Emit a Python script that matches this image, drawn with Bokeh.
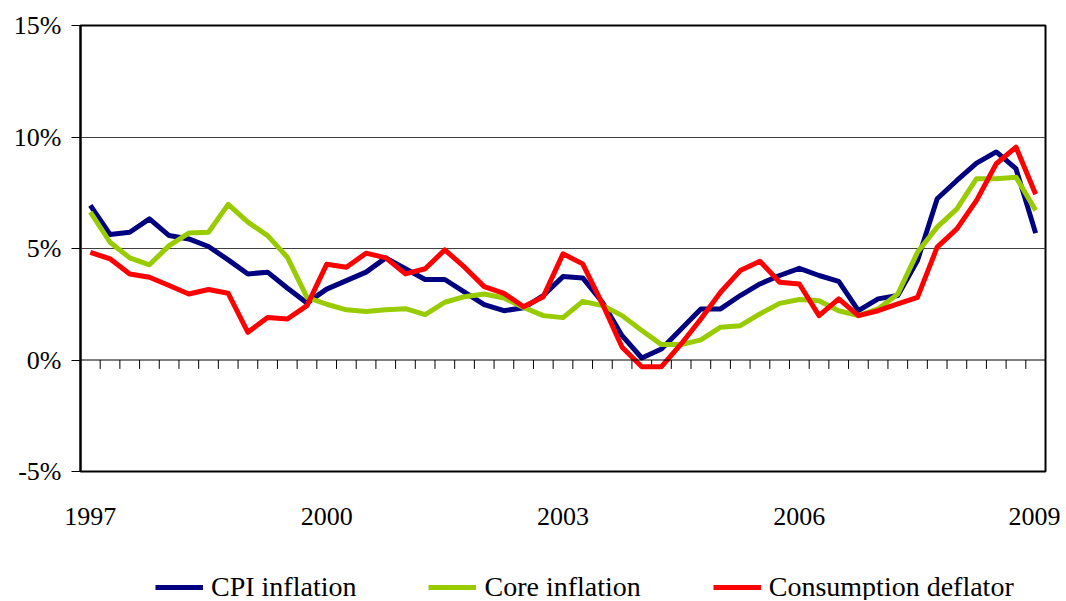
from bokeh.plotting import figure
from bokeh.layouts import column
from bokeh.models import (Range1d, FixedTicker, PrintfTickFormatter, Span,
                          Legend, LegendItem, ColumnDataSource)
from bokeh.embed import file_html
from bokeh.resources import INLINE

# Quarterly observations, 1997Q1 .. 2009Q1
quarters = [f"{y}Q{q}" for y in range(1997, 2010) for q in (1, 2, 3, 4)][:49]
year_labels = ["1997", "2000", "2003", "2006", "2009"]
year_positions = [0, 12, 24, 36, 48]

cpi = [6.93, 5.63, 5.73, 6.33, 5.58, 5.43, 5.09, 4.49, 3.86, 3.94,
       3.23, 2.56, 3.18, 3.56, 3.94, 4.58, 4.09, 3.61, 3.61, 3.04,
       2.48, 2.21, 2.34, 2.89, 3.74, 3.68, 2.59, 1.09, 0.09, 0.49,
       1.39, 2.29, 2.29, 2.89, 3.41, 3.79, 4.11, 3.79, 3.53, 2.21,
       2.74, 2.89, 4.46, 7.23, 8.05, 8.83, 9.33, 8.58, 5.69]
core = [6.63, 5.28, 4.58, 4.27, 5.13, 5.69, 5.73, 6.98, 6.18, 5.58,
        4.61, 2.81, 2.50, 2.25, 2.18, 2.25, 2.30, 2.03, 2.59, 2.84,
        2.96, 2.78, 2.36, 1.99, 1.90, 2.63, 2.44, 1.99, 1.32, 0.69,
        0.69, 0.90, 1.47, 1.54, 2.07, 2.54, 2.71, 2.66, 2.21, 1.99,
        2.29, 2.96, 4.83, 5.96, 6.78, 8.13, 8.13, 8.20, 6.71]
deflator = [4.83, 4.54, 3.86, 3.71, 3.34, 2.96, 3.16, 2.99, 1.24, 1.91,
            1.84, 2.44, 4.29, 4.16, 4.79, 4.58, 3.86, 4.09, 4.94, 4.16,
            3.29, 2.99, 2.39, 2.84, 4.76, 4.31, 2.52, 0.57, -0.30, -0.30,
            0.72, 1.84, 3.04, 4.01, 4.43, 3.49, 3.41, 1.99, 2.74, 1.99,
            2.21, 2.52, 2.81, 5.06, 5.88, 7.16, 8.80, 9.55, 7.43]

series_names = ["CPI inflation", "Core inflation", "Consumption deflator"]
series_colors = ["#000080", "#99CC00", "#FF0000"]
series_cols = ["cpi", "core", "defl"]

idx = list(range(len(quarters)))
src = ColumnDataSource(dict(x=idx, q=quarters, cpi=cpi, core=core, defl=deflator))

FONT = "Liberation Serif"
LW = 5

# ---------------- main chart ----------------
fig = figure(width=1060, height=540, output_backend="svg", toolbar_location=None,
             x_range=Range1d(-0.5, len(quarters) - 0.5), y_range=Range1d(-5, 15),
             min_border_left=80, min_border_right=15, min_border_top=25,
             min_border_bottom=69)
fig.background_fill_color = "white"
fig.border_fill_color = "white"
fig.outline_line_color = "black"
fig.outline_line_width = 2

fig.xgrid.visible = False
fig.ygrid.ticker = FixedTicker(ticks=[5, 10])
fig.ygrid.grid_line_color = "#404040"
fig.ygrid.grid_line_width = 1

ya = fig.yaxis[0]
ya.ticker = FixedTicker(ticks=[-5, 0, 5, 10, 15])
ya.formatter = PrintfTickFormatter(format="%d%%")
ya.axis_line_color = "black"
ya.axis_line_width = 2
ya.major_tick_out = 9
ya.major_tick_in = 0
ya.major_tick_line_color = "black"
ya.minor_tick_line_color = None
ya.major_label_text_font = FONT
ya.major_label_text_font_size = "26px"
ya.major_label_text_color = "black"
ya.major_label_standoff = 10

xa = fig.xaxis[0]
xa.ticker = FixedTicker(ticks=year_positions)
xa.major_label_overrides = {pos: lab for pos, lab in zip(year_positions, year_labels)}
xa.axis_line_color = None
xa.major_tick_line_color = None
xa.minor_tick_line_color = None
xa.major_label_text_font = FONT
xa.major_label_text_font_size = "26px"
xa.major_label_text_color = "black"
xa.major_label_standoff = 30

# zero line with quarter tick marks
fig.add_layout(Span(location=0, dimension="width", line_color="black", line_width=1))
bounds = [i + 0.5 for i in idx[:-1]]
fig.segment(x0=bounds, y0=[0] * len(bounds), x1=bounds, y1=[-0.4] * len(bounds),
            line_color="black", line_width=1)

for col, c in zip(series_cols, series_colors):
    fig.line("x", col, source=src, line_color=c, line_width=LW, line_join="round")

# ---------------- legend strip (frame aligned with the chart's frame) ----------------
leg_fig = figure(width=1060, height=60, output_backend="svg", toolbar_location=None,
                 x_axis_location=None, y_axis_location=None,
                 x_range=Range1d(-0.5, len(quarters) - 0.5), y_range=Range1d(100, 101),
                 min_border_left=80, min_border_right=15, min_border_top=0,
                 min_border_bottom=0)
leg_fig.outline_line_color = None
leg_fig.background_fill_color = "white"
leg_fig.border_fill_color = "white"
leg_fig.xgrid.visible = False
leg_fig.ygrid.visible = False

# same series, drawn out of view; they only supply the legend swatches
leg_renderers = [leg_fig.line("x", col, source=src, line_color=c, line_width=LW)
                 for col, c in zip(series_cols, series_colors)]

legend = Legend(items=[LegendItem(label=n, renderers=[r])
                       for n, r in zip(series_names, leg_renderers)],
                location=(75, -3), orientation="horizontal")
legend.label_text_font = FONT
legend.label_text_font_size = "28px"
legend.label_text_color = "black"
legend.glyph_width = 48
legend.glyph_height = 20
legend.label_standoff = 8
legend.spacing = 72
legend.padding = 0
legend.margin = 0
legend.border_line_color = None
legend.background_fill_alpha = 0
leg_fig.add_layout(legend)

p = column(fig, leg_fig, spacing=0)

open("out.html", "w").write(file_html(p, INLINE))
